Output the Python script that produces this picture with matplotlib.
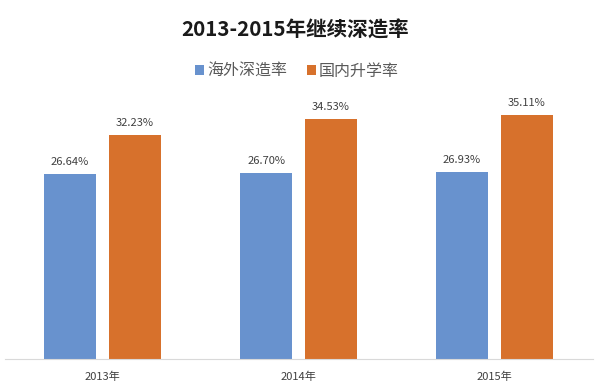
import numpy as np
from matplotlib import pyplot as plt

plt.rcParams['font.family'] = ['Noto Sans CJK SC', 'DejaVu Sans']

years = ['2013年', '2014年', '2015年']
overseas = [26.64, 26.70, 26.93]
domestic = [32.23, 34.53, 35.11]
series_names = ['海外深造率', '国内升学率']
blue = '#6892CE'
orange = '#D7712C'

fg = plt.figure(figsize=(6.0, 3.91), dpi=100)
ax = fg.add_axes([4.5/600, 32/391, 588/600, 278/391])

x = np.arange(len(years))
w = 0.265
gap = 0.066
b1 = ax.bar(x - (w + gap)/2, overseas, w, color=blue, label=series_names[0])
b2 = ax.bar(x + (w + gap)/2, domestic, w, color=orange, label=series_names[1])

for bars, vals in ((b1, overseas), (b2, domestic)):
    for r, v in zip(bars, vals):
        ax.annotate('%.2f%%' % v, (r.get_x() + r.get_width()/2, v),
                    xytext=(0, 5), textcoords='offset points',
                    ha='center', va='bottom', fontsize=8, color='#404040')

ax.set_xlim(-0.5, 2.5)
ax.set_ylim(0, 40)
ax.set_xticks(x)
ax.set_xticklabels(years, fontsize=8, color='#404040')
ax.tick_params(axis='x', length=0, pad=9)
ax.set_yticks([])
for s in ['top', 'right', 'left']:
    ax.spines[s].set_visible(False)
ax.spines['bottom'].set_color('#D9D9D9')
ax.spines['bottom'].set_linewidth(0.8)

fg.text(295/600, 1 - 30/391, '2013-2015年继续深造率', ha='center', va='center',
        fontsize=14.8, fontweight='bold', color='#1a1a1a')
fg.legend(handles=[b1, b2], labels=series_names, loc='center', ncol=2,
          bbox_to_anchor=(297/600, 1 - 71/391), frameon=False, fontsize=11.5,
          handlelength=0.56, handleheight=0.56, handletextpad=0.2, columnspacing=1.25,
          labelcolor='#595959')

fg.savefig('out.png', dpi=100)
